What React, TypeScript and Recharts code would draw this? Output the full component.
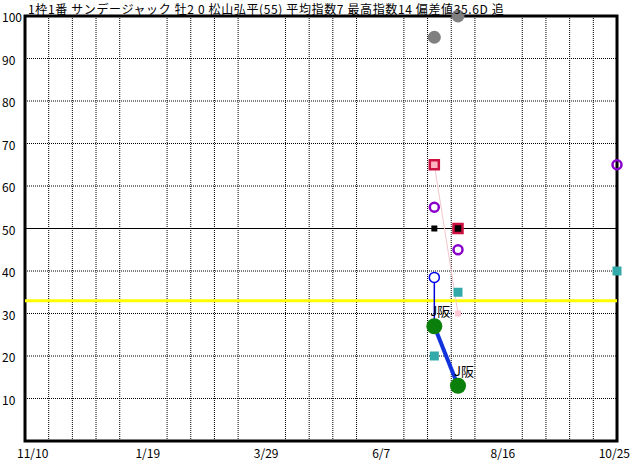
import React from "react";
import {
  ComposedChart,
  XAxis,
  YAxis,
  Scatter,
  ReferenceLine,
  ReferenceArea,
} from "recharts";

const TITLE = "1枠1番 サンデージャック 牡2 0 松山弘平(55) 平均指数7 最高指数14 偏差値35.6D 追";

// x axis = days since 11/10
const X_TICKS = [0, 70, 140, 210, 280, 350];
const X_LABELS = ["11/10", "1/19", "3/29", "6/7", "8/16", "10/25"];
const Y_TICKS = [10, 20, 30, 40, 50, 60, 70, 80, 90, 100];
const GRID_DAYS = [14, 28, 42, 56, 84, 98, 112, 126, 154, 168, 182, 196, 224, 238, 252, 266, 294, 308, 322, 336];
const GRID_VALUES = [10, 20, 30, 40, 60, 70, 80, 90];
const BASE_VALUE = 50;
const AVG_VALUE = 33;

const grayPts = [{ x: 242, y: 95 }, { x: 256, y: 100 }];
const redPinkPts = [{ x: 242, y: 65 }];
const redBlackPts = [{ x: 256, y: 50 }];
const blackPts = [{ x: 242, y: 50 }];
const pinkPts = [{ x: 256, y: 30 }];
const purplePts = [{ x: 242, y: 55 }, { x: 256, y: 45 }, { x: 350, y: 65 }];
const bluePts = [{ x: 242, y: 38.5 }];
const tealPts = [{ x: 242, y: 20 }, { x: 256, y: 35 }, { x: 350, y: 40 }];
const greenPts = [{ x: 242, y: 27 }, { x: 256, y: 13 }];
const pinkLink = [{ x: 242, y: 65 }, { x: 256, y: 30 }];
const blueLink = [{ x: 242, y: 38.5 }, { x: 242, y: 27 }];
const labelPts = [{ x: 242, y: 27, text: "J阪" }, { x: 256, y: 13, text: "J阪" }];

const FONT = "'Noto Sans CJK JP', 'Noto Sans', sans-serif";

const none = () => <g />;

const square = (size: number, fill: string, stroke?: string, sw = 0) => (p: any) => (
  <rect
    x={p.cx - size / 2}
    y={p.cy - size / 2}
    width={size}
    height={size}
    fill={fill}
    stroke={stroke || "none"}
    strokeWidth={sw}
  />
);

const circle = (r: number, fill: string, stroke?: string, sw = 0) => (p: any) => (
  <circle cx={p.cx} cy={p.cy} r={r} fill={fill} stroke={stroke || "none"} strokeWidth={sw} />
);

const label = (p: any) => (
  <text x={p.cx - 4} y={p.cy - 10} fontSize={13} fontFamily={FONT} fill="#000">
    {p.payload.text}
  </text>
);

const XTick = (p: any) => {
  const i = X_TICKS.indexOf(p.payload.value);
  const last = i === X_TICKS.length - 1;
  return (
    <text
      x={last ? p.x + 13 : p.x - 8}
      y={458}
      textAnchor={last ? "end" : "start"}
      fontSize={12}
      fontFamily={FONT}
      fill="#000"
    >
      {X_LABELS[i]}
    </text>
  );
};

const YTick = (p: any) => (
  <text x={2} y={p.y + 6} textAnchor="start" fontSize={12} fontFamily={FONT} fill="#000">
    {p.payload.value}
  </text>
);

export default function App() {
  return (
    <div style={{ position: "absolute", left: 0, top: 0, width: 632, height: 460, background: "#fff" }}>
      <ComposedChart width={632} height={460} margin={{ top: 16, right: 15, bottom: 0, left: 0 }}>
        <XAxis
          type="number"
          dataKey="x"
          domain={[0, 350]}
          ticks={X_TICKS}
          height={19}
          axisLine={false}
          tickLine={false}
          tick={<XTick />}
        />
        <YAxis
          type="number"
          dataKey="y"
          domain={[0, 100]}
          ticks={Y_TICKS}
          width={25}
          axisLine={false}
          tickLine={false}
          tick={<YTick />}
        />
        {GRID_DAYS.map((d) => (
          <ReferenceLine key={"v" + d} x={d} stroke="#000" strokeDasharray="1 1" strokeWidth={1} />
        ))}
        {GRID_VALUES.map((v) => (
          <ReferenceLine key={"h" + v} y={v} stroke="#000" strokeDasharray="1 1" strokeWidth={1} />
        ))}
        <ReferenceLine y={BASE_VALUE} stroke="#000" strokeWidth={1} />
        <ReferenceLine y={AVG_VALUE} stroke="#ffff00" strokeWidth={3} />
        <ReferenceArea
          x1={0}
          x2={350}
          y1={0}
          y2={100}
          fill="none"
          fillOpacity={0}
          stroke="#000"
          strokeWidth={3}
          ifOverflow="visible"
        />
        <Scatter data={pinkLink} line={{ stroke: "#f4c4cc", strokeWidth: 1 }} shape={none} isAnimationActive={false} />
        <Scatter data={blueLink} line={{ stroke: "#0000dd", strokeWidth: 1.5 }} shape={none} isAnimationActive={false} />
        <Scatter data={grayPts} shape={circle(6.5, "#808080")} isAnimationActive={false} />
        <Scatter data={redPinkPts} shape={square(9, "#ffb4c4", "#cc1040", 2.5)} isAnimationActive={false} />
        <Scatter data={redBlackPts} shape={square(9, "#000", "#cc1040", 2.5)} isAnimationActive={false} />
        <Scatter data={blackPts} shape={square(6, "#000")} isAnimationActive={false} />
        <Scatter data={pinkPts} shape={square(6, "#ffc8d4")} isAnimationActive={false} />
        <Scatter data={purplePts} shape={circle(4.5, "none", "#8800cc", 2.5)} isAnimationActive={false} />
        <Scatter data={bluePts} shape={circle(5, "#fff", "#0000ee", 1.5)} isAnimationActive={false} />
        <Scatter data={tealPts} shape={square(9, "#33aaaa")} isAnimationActive={false} />
        <Scatter
          data={greenPts}
          line={{ stroke: "#1133dd", strokeWidth: 4 }}
          shape={circle(8, "#0a800a")}
          isAnimationActive={false}
        />
        <Scatter data={labelPts} shape={label} isAnimationActive={false} />
      </ComposedChart>
      <svg width={632} height={20} style={{ position: "absolute", left: 0, top: 0 }}>
        <text x={28} y={14} fontSize={12} letterSpacing={0.63} fontFamily={FONT} fill="#000">
          {TITLE}
        </text>
      </svg>
    </div>
  );
}
